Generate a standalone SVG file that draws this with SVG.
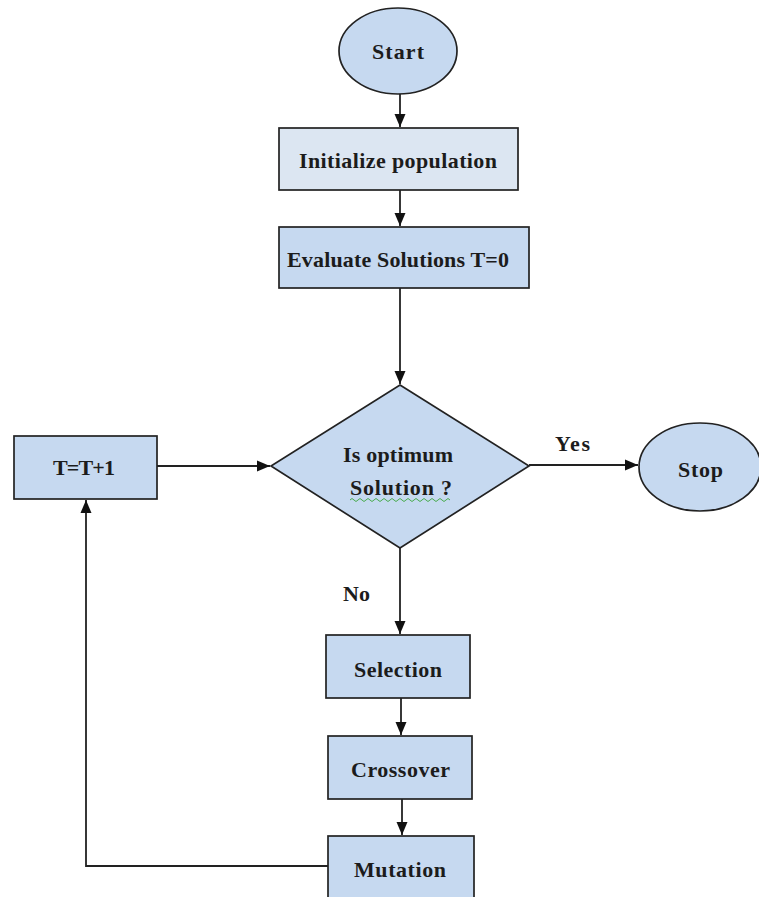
<svg xmlns="http://www.w3.org/2000/svg" width="759" height="897" viewBox="0 0 759 897">
<style>
.sh{fill:#c6d9f0;stroke:#222;stroke-width:1.7}
.lt{fill:#dce6f2;stroke:#222;stroke-width:1.7}
.t{font-family:"Liberation Serif","Times New Roman",serif;font-weight:bold;font-size:22px;fill:#1c1c1c}
.c{fill:none;stroke:#222;stroke-width:1.8}
</style>
<defs>
<marker id="ah" markerUnits="userSpaceOnUse" markerWidth="14" markerHeight="14" viewBox="0 0 14 14" refX="13" refY="7" orient="auto">
<path d="M0,1.5 L13,7 L0,12.5 Z" fill="#111"/>
</marker>
</defs>
<rect width="759" height="897" fill="#fff"/>
<g id="connectors">
<line class="c" x1="400" y1="94" x2="400" y2="127" marker-end="url(#ah)"/>
<line class="c" x1="400" y1="190" x2="400" y2="226" marker-end="url(#ah)"/>
<line class="c" x1="400" y1="288" x2="400" y2="384" marker-end="url(#ah)"/>
<line class="c" x1="157" y1="466" x2="270" y2="466" marker-end="url(#ah)"/>
<line class="c" x1="529" y1="465" x2="638" y2="465" marker-end="url(#ah)"/>
<line class="c" x1="400" y1="548" x2="400" y2="634" marker-end="url(#ah)"/>
<line class="c" x1="401" y1="698" x2="401" y2="735" marker-end="url(#ah)"/>
<line class="c" x1="402" y1="799" x2="402" y2="835" marker-end="url(#ah)"/>
<polyline class="c" points="328,866 86,866 86,500" marker-end="url(#ah)"/>
<text class="t" x="555" y="451" textLength="35">Yes</text>
<text class="t" x="343" y="601">No</text>
</g>
<g id="start">
<ellipse class="sh" cx="398" cy="51" rx="59" ry="43"/>
<text class="t" x="372" y="59" textLength="52">Start</text>
</g>
<g id="initialize">
<rect class="lt" x="279" y="128" width="239" height="62"/>
<text class="t" x="299" y="168" textLength="198">Initialize population</text>
</g>
<g id="evaluate">
<rect class="sh" x="279" y="227" width="250" height="61"/>
<text class="t" x="287" y="267" textLength="222">Evaluate Solutions T=0</text>
</g>
<g id="decision">
<polygon class="sh" points="400,385 529,466 400,548 271,466"/>
<text class="t" x="343" y="462" textLength="110">Is optimum</text>
<text class="t" x="350" y="495" textLength="102">Solution ?</text>
<path d="M350,500 q2,-3 4,0 t4,0 t4,0 t4,0 t4,0 t4,0 t4,0 t4,0 t4,0 t4,0 t4,0 t4,0 t4,0 t4,0 t4,0 t4,0 t4,0 t4,0 t4,0 t4,0 t4,0 t4,0 t4,0 t4,0 t4,0" fill="none" stroke="#3aa63a" stroke-width="0.9"/>
</g>
<g id="stop">
<ellipse class="sh" cx="700" cy="467" rx="61" ry="44"/>
<text class="t" x="678" y="477" textLength="45">Stop</text>
</g>
<g id="increment">
<rect class="sh" x="14" y="436" width="143" height="63"/>
<text class="t" x="53" y="475" textLength="62">T=T+1</text>
</g>
<g id="selection">
<rect class="sh" x="326" y="635" width="144" height="63"/>
<text class="t" x="354" y="677" textLength="88">Selection</text>
</g>
<g id="crossover">
<rect class="sh" x="328" y="736" width="144" height="63"/>
<text class="t" x="351" y="777" textLength="99">Crossover</text>
</g>
<g id="mutation">
<rect class="sh" x="328" y="836" width="146" height="70"/>
<text class="t" x="354" y="877" textLength="92">Mutation</text>
</g>
</svg>
